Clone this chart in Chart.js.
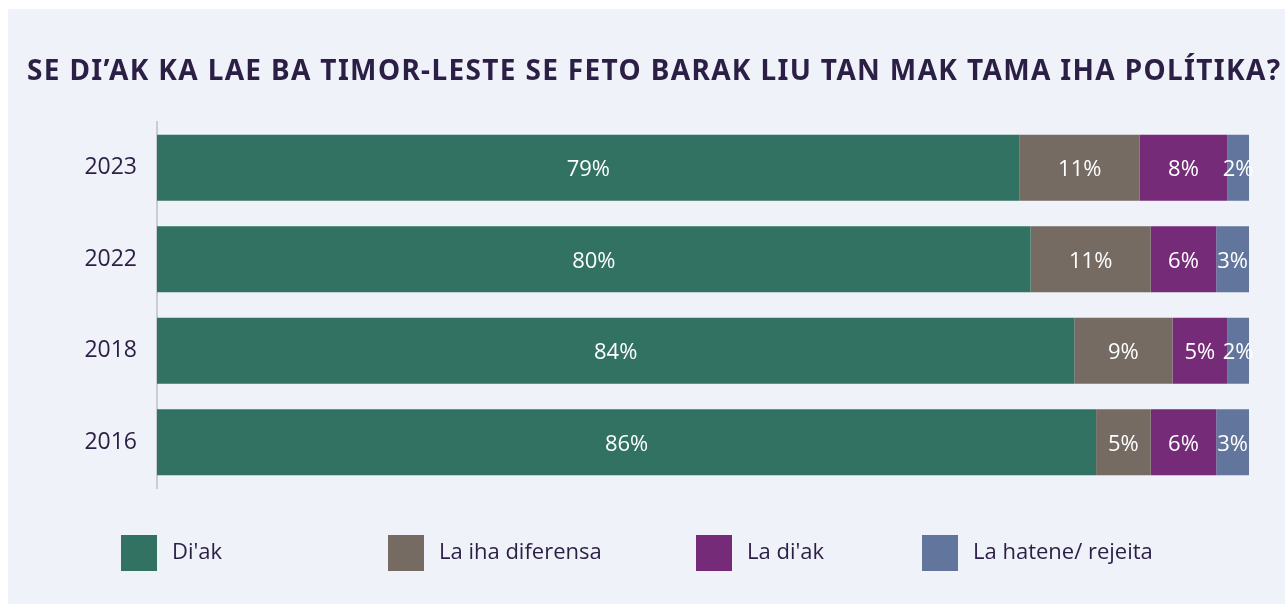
<!DOCTYPE html>
<html>
<head>
<meta charset="utf-8">
<script src="https://cdn.jsdelivr.net/npm/chart.js@4.4.1/dist/chart.umd.min.js"></script>
<style>
  html, body { margin: 0; padding: 0; background: #ffffff; width: 1285px; height: 606px; overflow: hidden; }
  #panel { position: absolute; left: 8px; top: 9px; width: 1277px; height: 595px; background: #eff2f8; }
  canvas { display: block; }
</style>
</head>
<body>
<div id="panel"><canvas id="c" width="1277" height="595"></canvas></div>
<script>
const titleText = "SE DI\u2019AK KA LAE BA TIMOR-LESTE SE FETO BARAK LIU TAN MAK TAMA IHA POL\u00CDTIKA?";
const categories = ["2023", "2022", "2018", "2016"];
const seriesNames = ["Di'ak", "La iha diferensa", "La di'ak", "La hatene/ rejeita"];
const diak = [79, 80, 84, 86];
const laIhaDiferensa = [11, 11, 9, 5];
const laDiak = [8, 6, 5, 6];
const laHatene = [2, 3, 2, 3];
const seriesColors = ["#317263", "#756b62", "#752b77", "#62769d"];

const textColor = "#2b1f45";

const titlePlugin = {
  id: "customTitle",
  afterDraw(chart) {
    const ctx = chart.ctx;
    ctx.save();
    ctx.font = "bold 28px 'Noto Sans'";
    ctx.fillStyle = textColor;
    ctx.textBaseline = "middle";
    ctx.textAlign = "left";
    const left = 19, right = 1272;
    const w = ctx.measureText(titleText).width;
    const spacing = (right - left - w) / (titleText.length - 1);
    ctx.letterSpacing = spacing + "px";
    ctx.fillText(titleText, left, 63);
    ctx.restore();
  }
};

const barLabelPlugin = {
  id: "barLabels",
  afterDatasetsDraw(chart) {
    const ctx = chart.ctx;
    ctx.save();
    ctx.font = "22px 'Open Sans'";
    ctx.fillStyle = "#ffffff";
    ctx.textAlign = "center";
    ctx.textBaseline = "middle";
    chart.data.datasets.forEach((ds, i) => {
      const meta = chart.getDatasetMeta(i);
      meta.data.forEach((bar, j) => {
        const v = ds.data[j];
        const cx = (bar.x + bar.base) / 2;
        ctx.fillText(v + "%", cx, bar.y + 2);
      });
    });
    ctx.restore();
  }
};

const legendPlugin = {
  id: "customLegend",
  afterDraw(chart) {
    const ctx = chart.ctx;
    const starts = [113, 380, 688, 914];
    const top = 526, size = 36;
    ctx.save();
    ctx.font = "22px 'Open Sans'";
    ctx.textBaseline = "middle";
    ctx.textAlign = "left";
    chart.data.datasets.forEach((ds, i) => {
      const x = starts[i];
      ctx.fillStyle = ds.backgroundColor;
      ctx.fillRect(x, top, size, size);
      ctx.fillStyle = textColor;
      ctx.fillText(ds.label, x + size + 15, top + size / 2);
    });
    ctx.restore();
  }
};

const seriesData = [diak, laIhaDiferensa, laDiak, laHatene];

new Chart(document.getElementById("c"), {
  type: "bar",
  data: {
    labels: categories,
    datasets: seriesNames.map((name, i) => ({
      label: name,
      data: seriesData[i],
      backgroundColor: seriesColors[i],
      borderWidth: 0,
      barPercentage: 0.72,
      categoryPercentage: 1
    }))
  },
  options: {
    indexAxis: "y",
    responsive: false,
    animation: false,
    layout: { padding: { top: 113, bottom: 116, right: 36, left: 0 } },
    plugins: {
      legend: { display: false },
      title: { display: false },
      tooltip: { enabled: false }
    },
    scales: {
      x: {
        stacked: true,
        min: 0,
        max: 100,
        display: false
      },
      y: {
        stacked: true,
        grid: { display: false, drawTicks: false },
        border: { display: true, color: "#c9ccd3", width: 2 },
        ticks: {
          color: textColor,
          font: { family: "'Open Sans'", size: 23 },
          padding: 20
        },
        afterFit(axis) { axis.width = 149; }
      }
    }
  },
  plugins: [titlePlugin, barLabelPlugin, legendPlugin]
});
</script>
</body>
</html>
